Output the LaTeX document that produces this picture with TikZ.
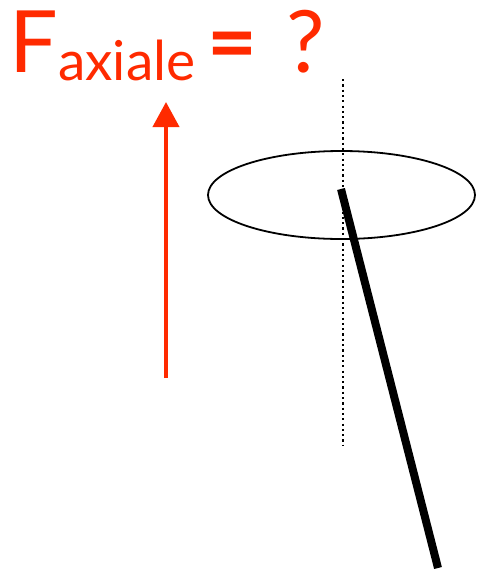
\documentclass[tikz,border=0pt]{standalone}
\usepackage{fontspec}
\setmainfont{Lato}
\usepackage{xcolor}
\usetikzlibrary{arrows.meta, positioning}
\definecolor{axred}{HTML}{FF2A00}
\tikzset{
  bigtxt/.style={inner sep=0pt,text=axred,anchor=base west,font=\fontsize{86}{86}\selectfont},
  subtxt/.style={bigtxt,font=\fontsize{55}{55}\selectfont},
  forcearrow/.style={-{Triangle[length=25pt,width=26pt]},line width=4pt,axred},
  axisline/.style={line width=2.4pt,dash pattern=on 2.2pt off 3.1pt,black},
  ringline/.style={line width=1.8pt,black},
  rodline/.style={line width=8pt,black},
}

\begin{document}
\begin{tikzpicture}[x=1pt,y=-1pt]
  \useasboundingbox (0,0) rectangle (479,574);
  % title
  \node[bigtxt] (tF) at (9,72) {F};
  \node[subtxt] (tSub) at ([yshift=-8pt]tF.base east) {axiale};
  \node[bigtxt,font=\fontsize{86}{86}\selectfont\bfseries] (tEq) at (207,72) {=};
  \node[bigtxt] (tQ) at (286,72) {?};
  % force arrow
  \coordinate (fBot) at (166,378);
  \coordinate (fTop) at (166,102);
  \draw[forcearrow] (fBot) -- (fTop);
  % axis and ring
  \coordinate (axTop) at (343,79);
  \coordinate (axBot) at (343,445);
  \draw[axisline] (axTop) -- (axBot);
  \coordinate (ringC) at (341.5,195);
  \draw[ringline] (ringC) ellipse [x radius=133.5,y radius=44];
  % rod
  \coordinate (rodTop) at (341,189);
  \coordinate (rodBot) at (438,568);
  \draw[rodline] (rodTop) -- (rodBot);
\end{tikzpicture}
\end{document}
